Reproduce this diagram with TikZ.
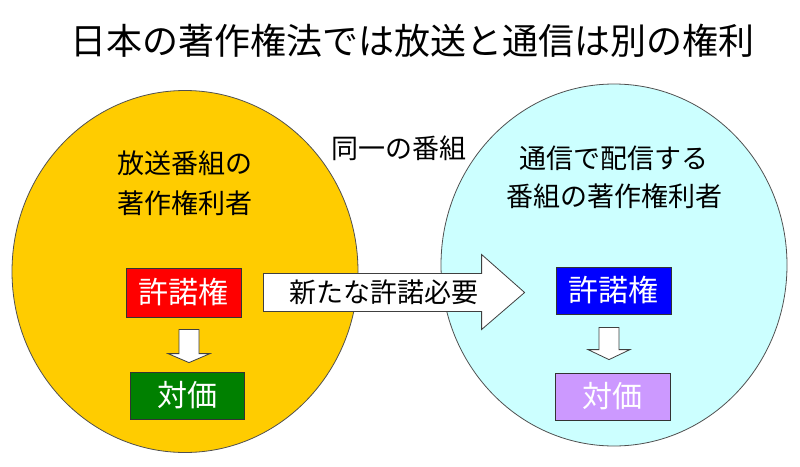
\documentclass[tikz,border=0pt]{standalone}
\usepackage{fontspec}
\setmainfont{Noto Sans CJK JP}
\usetikzlibrary{shapes.geometric,calc}
\definecolor{orangefill}{HTML}{FFCC00}
\definecolor{cyanfill}{HTML}{CCFFFF}
\definecolor{redfill}{HTML}{FF0000}
\definecolor{greenfill}{HTML}{008000}
\definecolor{bluefill}{HTML}{0000FF}
\definecolor{purplefill}{HTML}{CC99FF}
\definecolor{edgegray}{HTML}{505050}
\begin{document}
\begin{tikzpicture}[x=1pt,y=-1pt,
  circ/.style={ellipse, draw=edgegray, line width=0.8pt, minimum width=346pt, minimum height=362pt, inner sep=0pt},
  box/.style={draw=black!80, line width=0.8pt, minimum width=115pt, minimum height=48pt, inner sep=0pt, text=white, font=\fontsize{30}{32}\selectfont},
  lbl/.style={align=center, inner sep=0pt},
  blockarrow/.style={draw=black!75, fill=white, line width=0.8pt, line join=miter}]
\useasboundingbox (0,0) rectangle (800,466);
\node[font=\fontsize{36}{40}\selectfont, inner sep=0pt] (title) at (412,41) {日本の著作権法では放送と通信は別の権利};
\node[circ, fill=orangefill] (bc) at (185,271.5) {};
\node[circ, fill=cyanfill] (tc) at (614,265) {};
\node[lbl, font=\fontsize{27}{30}\selectfont] (same) at (398.5,148) {同一の番組};
\node[lbl, font=\fontsize{27}{40}\selectfont] (bclbl) at (184.5,183) {放送番組の\\著作権利者};
\node[lbl, font=\fontsize{27}{38}\selectfont] (tclbl) at (614,177) {通信で配信する\\番組の著作権利者};
\node[box, fill=redfill, minimum height=49pt] (lic1) at (183.5,292.5) {許諾権};
\node[box, fill=greenfill, minimum width=114pt, minimum height=47pt] (pay1) at (187,395.5) {対価};
\node[box, fill=bluefill, minimum height=47pt] (lic2) at (613.5,290.5) {許諾権};
\node[box, fill=purplefill, minimum height=47pt] (pay2) at (612.5,396.5) {対価};
% left down arrow
\coordinate (a1) at ($(lic1.south)+(5.5,12)$);
\coordinate (a1t) at ($(pay1.north)+(2,-9)$);
\draw[blockarrow] ($(a1)+(-10,0)$) -- ($(a1)+(10,0)$) -- ($(a1t)+(10,-9)$) -- ($(a1t)+(21,-9)$) -- (a1t) -- ($(a1t)+(-21,-9)$) -- ($(a1t)+(-10,-9)$) -- cycle;
% right down arrow
\coordinate (a2) at ($(lic2.south)+(-4.5,13)$);
\coordinate (a2t) at ($(pay2.north)+(-3.5,-13)$);
\draw[blockarrow] ($(a2)+(-10,0)$) -- ($(a2)+(10,0)$) -- ($(a2t)+(10,-10)$) -- ($(a2t)+(21,-10)$) -- (a2t) -- ($(a2t)+(-21,-10)$) -- ($(a2t)+(-10,-10)$) -- cycle;
% big arrow
\coordinate (bt) at ($(lic1.east)+(22,0)$);
\coordinate (tmp) at ($(lic2.west)+(-31,0)$);
\coordinate (btip) at (tmp |- bt);
\coordinate (bh) at ($(btip)+(-43,0)$);
\draw[blockarrow] ($(bt)+(0,-19)$) -- ($(bh)+(0,-19)$) -- ($(bh)+(0,-38)$) -- (btip) -- ($(bh)+(0,37)$) -- ($(bh)+(0,19)$) -- ($(bt)+(0,19)$) -- cycle;
\node[lbl, font=\fontsize{27}{30}\selectfont] (need) at ($(bt)+(121,0)$) {新たな許諾必要};
\end{tikzpicture}
\end{document}
